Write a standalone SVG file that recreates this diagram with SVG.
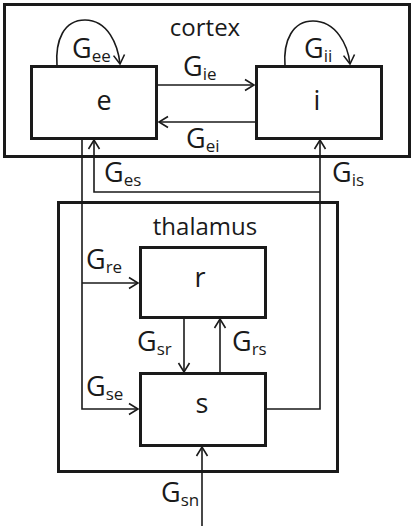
<svg xmlns="http://www.w3.org/2000/svg" width="414" height="529" viewBox="0 0 414 529">
<style>
.box{fill:none;stroke:#1a1a1a;stroke-width:3}
.nb{fill:#fff;stroke:#1a1a1a;stroke-width:3}
.c{fill:none;stroke:#1a1a1a;stroke-width:1.6}
text{font-family:"Open Sans","DejaVu Sans",sans-serif;fill:#1a1a1a}
.t{font-size:24px;text-anchor:middle}
.n{font-size:27px;text-anchor:middle}
.g{font-size:27px}
.s{font-size:17px}
</style>
<defs>
<marker id="a" markerUnits="userSpaceOnUse" markerWidth="20" markerHeight="20" refX="0" refY="0" viewBox="-10 -10 20 20" orient="auto" overflow="visible">
<path d="M-9,-5.5 L0,0 L-9,5.5" fill="none" stroke="#1a1a1a" stroke-width="1.6"/>
</marker>
</defs>
<rect x="0" y="0" width="414" height="529" fill="#fff"/>
<g id="cortex">
<rect class="box" x="4.5" y="4.5" width="405" height="152"/>
<text class="t" x="205" y="36">cortex</text>
</g>
<g id="thalamus">
<rect class="box" x="58.5" y="202.5" width="279" height="269"/>
<text class="t" x="205" y="235">thalamus</text>
</g>
<g id="connectors">
<path class="c" d="M157,85 H254" marker-end="url(#a)"/>
<path class="c" d="M256,122 H159" marker-end="url(#a)"/>
<path class="c" d="M57,66 C55,40 64,20 85,20 C108,20 118,45 120,64" marker-end="url(#a)"/>
<path class="c" d="M285,66 C283,40 293,21 313,21 C336,21 348,45 350,64" marker-end="url(#a)"/>
<path class="c" d="M82,139 V409 H138" marker-end="url(#a)"/>
<path class="c" d="M82,283 H138" marker-end="url(#a)"/>
<path class="c" d="M267,409 H320 V140" marker-end="url(#a)"/>
<path class="c" d="M320,192 H94 V140" marker-end="url(#a)"/>
<path class="c" d="M184,319 V372" marker-end="url(#a)"/>
<path class="c" d="M220,372 V319" marker-end="url(#a)"/>
<path class="c" d="M202,526 V447" marker-end="url(#a)"/>
</g>
<g id="e">
<rect class="nb" x="31.5" y="66.5" width="125" height="72"/>
<text class="n" x="104" y="110">e</text>
</g>
<g id="i">
<rect class="nb" x="256.5" y="66.5" width="125" height="72"/>
<text class="n" x="317" y="110">i</text>
</g>
<g id="r">
<rect class="nb" x="140.5" y="247.5" width="125" height="70"/>
<text class="n" x="200" y="287">r</text>
</g>
<g id="s">
<rect class="nb" x="140.5" y="373.5" width="125" height="72"/>
<text class="n" x="202" y="413">s</text>
</g>
<g id="labels">
<text class="g" x="72" y="58">G<tspan class="s" dy="4">ee</tspan></text>
<text class="g" x="304" y="58">G<tspan class="s" dy="4">ii</tspan></text>
<text class="g" x="183" y="76">G<tspan class="s" dy="4">ie</tspan></text>
<text class="g" x="186" y="148">G<tspan class="s" dy="4">ei</tspan></text>
<text class="g" x="104" y="182">G<tspan class="s" dy="4">es</tspan></text>
<text class="g" x="332" y="182">G<tspan class="s" dy="4">is</tspan></text>
<text class="g" x="86" y="269">G<tspan class="s" dy="4">re</tspan></text>
<text class="g" x="137" y="351">G<tspan class="s" dy="4">sr</tspan></text>
<text class="g" x="232" y="351">G<tspan class="s" dy="4">rs</tspan></text>
<text class="g" x="86" y="396">G<tspan class="s" dy="4">se</tspan></text>
<text class="g" x="161" y="502">G<tspan class="s" dy="4">sn</tspan></text>
</g>
</svg>
